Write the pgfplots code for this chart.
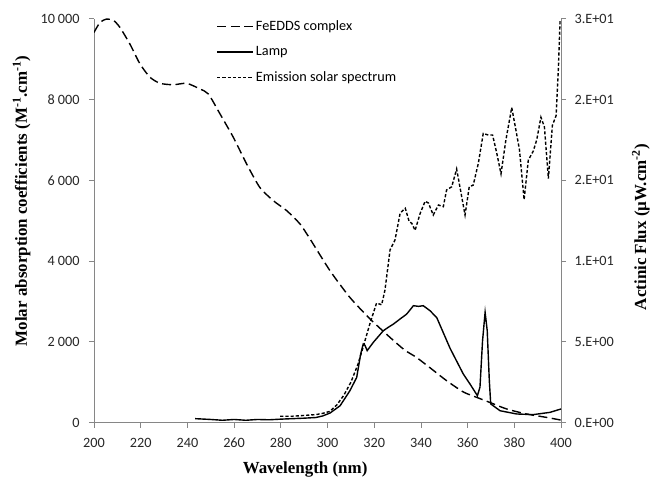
\documentclass[border=0pt]{standalone}
\usepackage{pgfplots}
\pgfplotsset{compat=1.18}
\usepackage{fontspec}
\setmainfont{Carlito}
\newfontfamily\tnr{Liberation Serif}
\definecolor{axgray}{HTML}{868686}
\begin{document}
\begin{tikzpicture}
\path[use as bounding box] (0,0) rectangle (651bp,479bp);
\pgfplotsset{
  common/.style={
    at={(94bp,56.3bp)}, anchor=south west,
    scale only axis, width=467bp, height=404bp,
    xmin=200, xmax=400,
    tick align=outside,
    major tick length=5bp,
    every tick/.style={axgray, line width=0.8bp},
    axis line style={axgray, line width=0.8bp},
    tick label style={font=\fontsize{14.3}{16}\selectfont, text=black!85},
    /pgf/number format/assume math mode=true,
  }
}
\begin{axis}[common,
  axis x line*=bottom, axis y line*=left,
  ymin=0, ymax=10000,
  xtick={200,220,...,400},
  ytick={0,2000,...,10000},
  scaled y ticks=false,
  yticklabel style={/pgf/number format/1000 sep={\hspace{0.2em}}, xshift=-6bp},
  xticklabel style={/pgf/number format/1000 sep={}, yshift=-7bp},
  xlabel={\tnr\bfseries Wavelength (nm)},
  xlabel style={font=\fontsize{17}{19}\selectfont, at={(axis description cs:0.452,-0.117)}, anchor=center},
  ylabel={\tnr\bfseries Molar absorption coefficients (M\textsuperscript{-1}.cm\textsuperscript{-1})},
  ylabel style={font=\fontsize{17}{19}\selectfont, at={(axis description cs:-0.155,0.549)}, anchor=center, rotate=0},
]
\addplot[black, line width=1.4bp, dash pattern=on 9bp off 4.5bp, smooth, tension=0.4] coordinates {
(200,9660) (202.6,9910) (205.4,9990) (208.3,9960) (211.1,9785) (215.4,9370)
(219.7,8880) (224,8550) (228.3,8400) (234,8365) (239.7,8400) (245.4,8260)
(249,8135) (254,7640) (259.7,7060) (265.4,6400) (271,5825) (276.8,5495)
(282.5,5250) (288.2,4920) (292.5,4550) (301.1,3760) (309.6,3100) (318.2,2570)
(326.8,2110) (333,1800) (338,1620) (343.9,1360) (351,1040) (358.2,760) (364,625)
(369.6,500) (376.7,340) (385.3,215) (393.9,130) (400,65)
};
\end{axis}
\begin{axis}[common,
  axis x line=none, axis y line*=right,
  ymin=0, ymax=25,
  ytick={0,5,...,25},
  yticklabels={0.E+00,5.E+00,1.E+01,2.E+01,2.E+01,3.E+01},
  yticklabel style={xshift=5bp},
  ylabel={\tnr\bfseries Actinic Flux (µW.cm\textsuperscript{-2})},
  ylabel style={font=\fontsize{17}{19}\selectfont, at={(axis description cs:1.171,0.484)}, anchor=center, rotate=0},
  legend style={draw=none, fill=none, at={(axis description cs:0.262,1.0)}, anchor=north west,
    font=\fontsize{14.3}{16}\selectfont, row sep=10.5bp, inner sep=0pt,
    nodes={inner sep=2bp}},
  legend cell align=left,
  legend image code/.code={\draw[#1] (0bp,0bp) -- (36bp,0bp);},
]
\addlegendimage{black, line width=1.4bp, dash pattern=on 9bp off 4.5bp}
\addlegendentry{FeEDDS complex}
\addplot[black, line width=1.4bp] coordinates {
(243.3,0.25) (250,0.2) (255,0.15) (260,0.2) (265,0.15) (270,0.2) (275,0.18)
(280,0.22) (285,0.25) (290,0.28) (295,0.32) (298,0.42) (301.1,0.6) (305.4,1.05)
(309.6,1.98) (312.5,2.8) (314.2,4.25) (315.3,4.87) (316,4.8) (317,4.46)
(319.6,4.97) (323.9,5.69) (326,5.9) (328.2,6.1) (331.1,6.42) (333.9,6.72)
(336.8,7.24) (339,7.2) (341,7.24) (343.9,6.93) (346.8,6.5) (349.5,5.6)
(352.5,4.6) (356.7,3.42) (358.2,3.0) (361,2.4) (364.2,1.67) (365.3,2.2)
(366.4,5.07) (367.5,6.83) (368.4,5.7) (369.3,2.6) (369.9,1.16) (373.9,0.74)
(381,0.54) (388.1,0.5) (395.3,0.64) (400,0.85)
};
\addlegendentry{Lamp}
\addplot[black, line width=1.4bp, dash pattern=on 3.2bp off 2bp] coordinates {
(279.7,0.4) (285,0.4) (290,0.45) (295,0.5) (298,0.58) (301,0.7) (304,1.1)
(307,1.7) (310,2.5) (313,3.6) (315.3,4.7) (318.2,6.15) (321,7.4) (323.2,7.3)
(324.6,8.2) (326.8,10.7) (328.9,11.3) (331.1,12.96) (333.3,13.27) (335,12.44)
(336.1,12.34) (337.5,11.9) (339.7,12.96) (341.8,13.7) (343.2,13.6) (345.3,12.85)
(347.5,13.47) (349.6,13.37) (351,14.4) (353.2,14.6) (355.3,15.7) (356.7,14.6)
(358.9,12.85) (360.7,14.6) (362.4,14.7) (364.6,16.05) (366.7,17.9) (368.9,17.8)
(370.7,17.8) (372.5,16.67) (374.3,15.4) (376.4,17.5) (378.9,19.5) (380.7,18.1)
(382.2,16.9) (384.2,13.8) (386,16.25) (388.1,16.8) (389.6,17.5) (391.4,18.9)
(392.9,18.3) (394.6,15.1) (396.3,18.4) (397.9,19.0) (398.9,22.0) (399.6,24.9)
};
\addlegendentry{Emission solar spectrum}
\end{axis}
\end{tikzpicture}
\end{document}
